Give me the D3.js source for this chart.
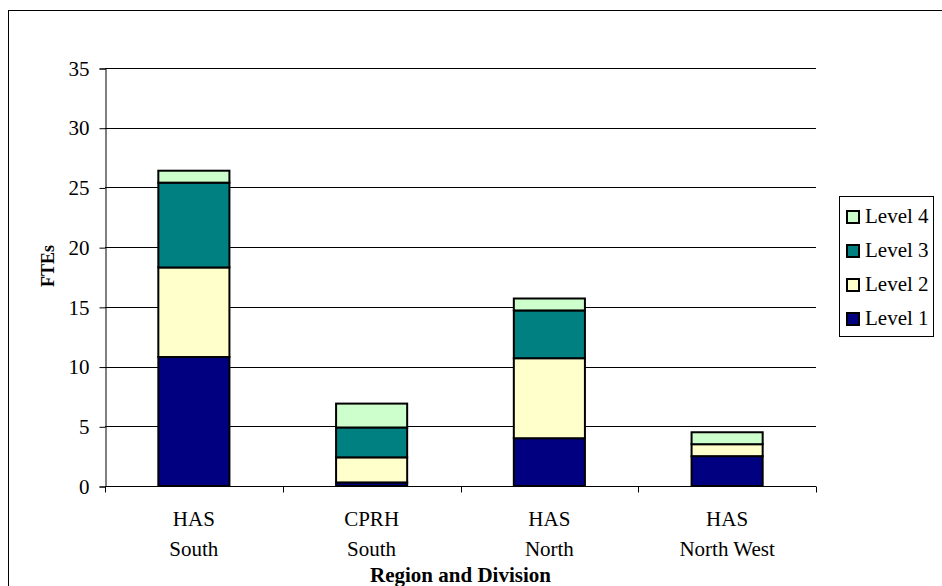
<!DOCTYPE html>
<html>
<head>
<meta charset="utf-8">
<script src="https://cdn.jsdelivr.net/npm/d3@7"></script>
<style>
  html, body { margin: 0; padding: 0; background: #fff; }
  svg { display: block; }
  svg text { font-family: "Liberation Serif", "DejaVu Serif", serif !important; }
</style>
</head>
<body>
<svg id="chart" width="942" height="586"></svg>
<script>
// Staffing by region/division, stacked by level
const categories = [["HAS", "South"], ["CPRH", "South"], ["HAS", "North"], ["HAS", "North West"]];
const seriesNames = ["Level 1", "Level 2", "Level 3", "Level 4"];
const level1 = [10.8, 0.3, 4.0, 2.5];
const level2 = [7.5, 2.1, 6.7, 1.0];
const level3 = [7.1, 2.5, 4.0, 0.0];
const level4 = [1.0, 2.0, 1.0, 1.0];
const yTicks = [0, 5, 10, 15, 20, 25, 30, 35];
const colors = ["#000080", "#FFFFCC", "#008080", "#CCFFCC"];

const FS = "21px";
const svg = d3.select("#chart");
const W = 942, H = 586;
const plot = { left: 105, right: 816, top: 68, bottom: 486 };

// outer chart frame (runs off the right and bottom edges)
svg.append("rect")
  .attr("x", 8.5).attr("y", 10.5)
  .attr("width", W + 10).attr("height", H + 10)
  .attr("fill", "none").attr("stroke", "#000").attr("stroke-width", 1);

const keys = categories.map(c => c.join(" "));
const x = d3.scaleBand().domain(keys).range([plot.left, plot.right]).paddingInner(0).paddingOuter(0);
const y = d3.scaleLinear().domain([0, 35]).range([plot.bottom, plot.top]);

// gridlines
svg.append("g").selectAll("line").data(yTicks.filter(t => t > 0)).join("line")
  .attr("x1", plot.left).attr("x2", plot.right)
  .attr("y1", d => Math.round(y(d)) + 0.5).attr("y2", d => Math.round(y(d)) + 0.5)
  .attr("stroke", "#000").attr("stroke-width", 1);

// y axis
const yAxis = svg.append("g")
  .attr("transform", `translate(${plot.left + 0.5},0.5)`)
  .call(d3.axisLeft(y).tickValues(yTicks).tickSize(6).tickPadding(10).tickFormat(d3.format("d")));
yAxis.attr("font-family", null).attr("font-size", 21);
yAxis.select(".domain").attr("stroke", "#000");
yAxis.selectAll(".tick line").attr("stroke", "#000");
yAxis.selectAll("text").attr("fill", "#000").style("font-size", FS);

// stacked bars
const table = keys.map((k, i) => ({ key: k, "Level 1": level1[i], "Level 2": level2[i], "Level 3": level3[i], "Level 4": level4[i] }));
const stack = d3.stack().keys(seriesNames)(table);
const barW = x.bandwidth() / 2.5;

svg.append("g").selectAll("g").data(stack).join("g")
  .attr("fill", (d, i) => colors[i])
  .selectAll("rect").data(d => d).join("rect")
  .attr("x", d => x(d.data.key) + (x.bandwidth() - barW) / 2)
  .attr("width", barW)
  .attr("y", d => y(d[1]))
  .attr("height", d => y(d[0]) - y(d[1]))
  .attr("stroke", "#000").attr("stroke-width", 2);

// x axis with ticks between categories
const xAxisG = svg.append("g").attr("transform", `translate(0,${plot.bottom + 0.5})`);
xAxisG.append("line").attr("x1", plot.left).attr("x2", plot.right).attr("stroke", "#000");
const boundaries = keys.map(k => x(k)).concat([plot.right]);
xAxisG.selectAll("line.tick").data(boundaries).join("line")
  .attr("class", "tick")
  .attr("x1", d => Math.round(d) + 0.5).attr("x2", d => Math.round(d) + 0.5)
  .attr("y1", 0).attr("y2", 6).attr("stroke", "#000");

const labels = svg.append("g").style("font-size", FS)
  .selectAll("text").data(categories).join("text")
  .attr("text-anchor", "middle")
  .attr("x", (d, i) => x(keys[i]) + x.bandwidth() / 2);
labels.append("tspan").attr("x", (d, i) => x(keys[i]) + x.bandwidth() / 2).attr("y", 526).text(d => d[0]);
labels.append("tspan").attr("x", (d, i) => x(keys[i]) + x.bandwidth() / 2).attr("y", 556).text(d => d[1]);

// axis titles
svg.append("text").attr("x", (plot.left + plot.right) / 2).attr("y", 582)
  .attr("text-anchor", "middle").style("font-size", "21px").style("font-weight", "bold")
  .text("Region and Division");
svg.append("text").attr("transform", "translate(54,266) rotate(-90)")
  .attr("text-anchor", "middle").style("font-size", "18px").style("font-weight", "bold")
  .text("FTEs");

// legend (Level 4 on top)
const lg = svg.append("g");
lg.append("rect").attr("x", 839.5).attr("y", 196.5).attr("width", 94).attr("height", 140)
  .attr("fill", "#fff").attr("stroke", "#000");
const legendOrder = [3, 2, 1, 0];
const rows = lg.selectAll("g").data(legendOrder).join("g")
  .attr("transform", (d, i) => `translate(0,${223 + i * 34})`);
rows.append("rect").attr("x", 847).attr("y", -12).attr("width", 12).attr("height", 12)
  .attr("fill", d => colors[d]).attr("stroke", "#000").attr("stroke-width", 2);
rows.append("text").attr("x", 865).attr("y", 0).style("font-size", FS)
  .text(d => seriesNames[d]);
</script>
</body>
</html>
